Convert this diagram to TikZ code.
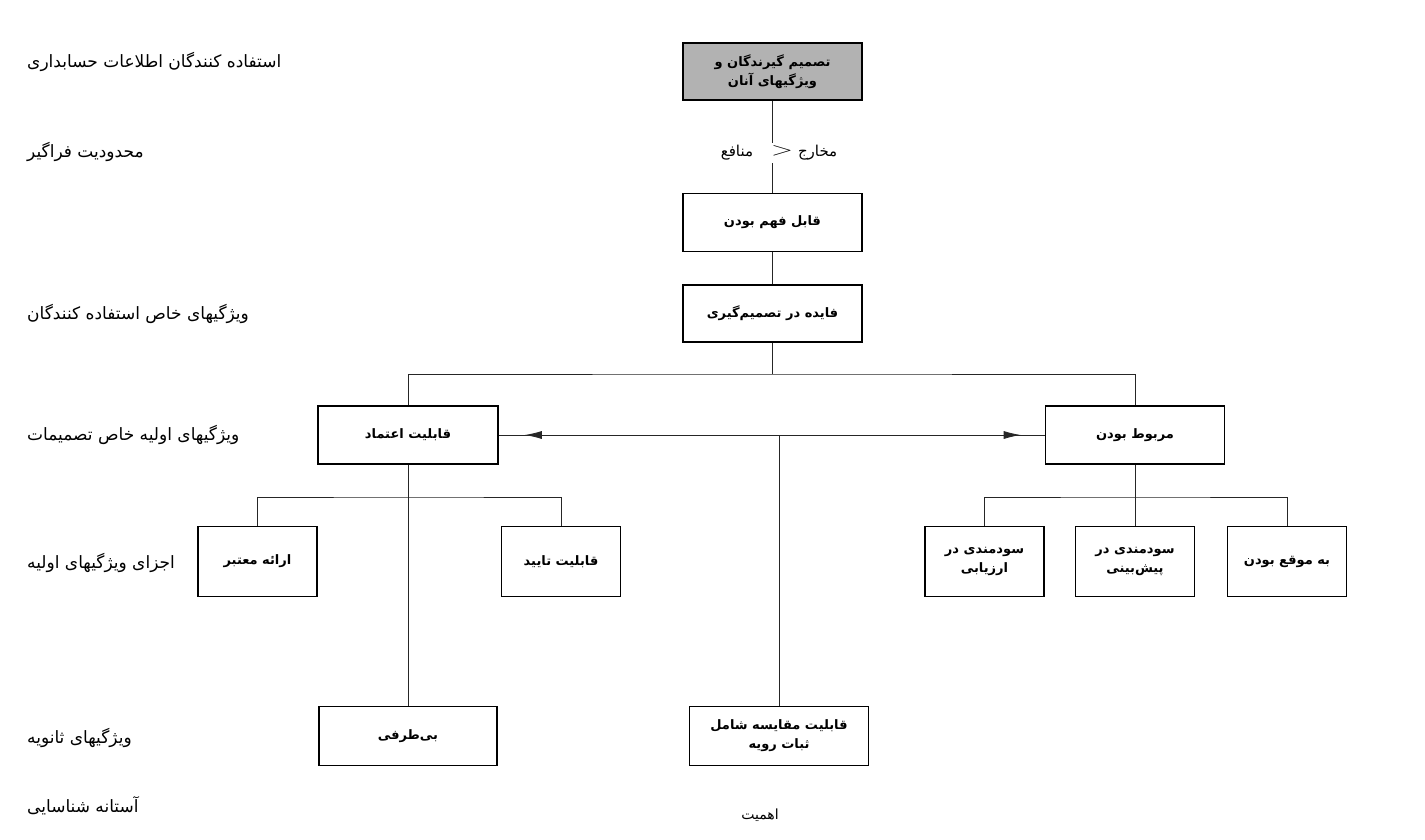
\documentclass[tikz,border=0pt]{standalone}
\usepackage{fontspec}
\TeXXeTstate=1
\newfontfamily\arabicfont[Script=Arabic]{DejaVu Sans}
\usetikzlibrary{arrows.meta,decorations.markings}
\newcommand\rtltext[1]{\beginR #1\endR}
\begin{document}
\begin{tikzpicture}[x=1pt,y=-1pt,
  box/.style={draw=black, line width=1.6pt, minimum width=179pt, minimum height=58pt,
    inner sep=0pt, align=center, font=\arabicfont\bfseries\fontsize{13}{19}\selectfont},
  sbox/.style={box, minimum width=119pt, minimum height=70pt},
  conn/.style={draw=black!85, line width=0.8pt},
  lab/.style={anchor=west, inner sep=0pt, font=\arabicfont\fontsize{17}{19}\selectfont}]
\useasboundingbox (0,0) rectangle (1425,839);
\fill[white] (0,0) rectangle (1425,839);

% main column
\node[box, fill=black!30, minimum height=57pt] (top) at (772.5,71.5)
  {\rtltext{تصمیم گیرندگان و}\\\rtltext{ویژگیهای آنان}};
\node[box] (und) at (772.5,222.5) {\rtltext{قابل فهم بودن}};
\node[box, minimum height=57pt] (use) at (772.5,313.5) {\rtltext{فایده در تصمیم‌گیری}};

\node[box, minimum width=180pt] (rel) at (408,435) {\rtltext{قابلیت اعتماد}};
\node[box] (relv) at (1135,435) {\rtltext{مربوط بودن}};

\node[sbox] (cred) at (257.5,561.5) {\rtltext{ارائه معتبر}};
\node[sbox] (ver) at (561,561.5) {\rtltext{قابلیت تایید}};
\node[sbox] (eval) at (984.5,561.5) {\rtltext{سودمندی در}\\\rtltext{ارزیابی}};
\node[sbox] (pred) at (1135,561.5) {\rtltext{سودمندی در}\\\rtltext{پیش‌بینی}};
\node[sbox] (time) at (1287,561.5) {\rtltext{به موقع بودن}};

\node[box, minimum width=178pt, minimum height=59pt] (neut) at (408,736) {\rtltext{بی‌طرفی}};
\node[box, minimum height=59pt] (comp) at (779,736)
  {\rtltext{قابلیت مقایسه شامل}\\\rtltext{ثبات رویه}};

% connectors
\draw[conn] (top) -- (und);
\node[fill=white, inner sep=2pt, font=\arabicfont\fontsize{15}{17}\selectfont] (cb) at (779,153)
  {\rtltext{منافع}\hspace{18pt}\raisebox{1pt}{\scalebox{2}[1.3]{$>$}}\hspace{5pt}\rtltext{مخارج}};
\draw[conn] (und) -- (use);
\coordinate (b1) at (772.5,374);
\draw[conn] (use.south) -- (b1);
\draw[conn] (rel.north) |- (b1) -| (relv.north);
\draw[conn, postaction={decorate}, decoration={markings,
   mark=at position 26pt with {\arrowreversed{Latex[length=17pt,width=8pt]}},
   mark=at position -24pt with {\arrow{Latex[length=17pt,width=8pt]}}}]
   (rel.east) -- (relv.west);
\coordinate (c1) at (comp.north |- rel.east);
\draw[conn] (c1) -- (comp.north);

\coordinate (b2) at (408,497);
\draw[conn] (cred.north) |- (b2) -| (ver.north);
\draw[conn] (rel.south) -- (neut.north);
\coordinate (b3) at (1135,497);
\draw[conn] (eval.north) |- (b3) -| (time.north);
\draw[conn] (relv.south) -- (pred.north);

% side labels
\node[lab] (l1) at (27,62) {\rtltext{استفاده کنندگان اطلاعات حسابداری}};
\node[lab] (l2) at (27,152) {\rtltext{محدودیت فراگیر}};
\node[lab] (l3) at (27,314) {\rtltext{ویژگیهای خاص استفاده کنندگان}};
\node[lab] (l4) at (27,435) {\rtltext{ویژگیهای اولیه خاص تصمیمات}};
\node[lab] (l5) at (27,563) {\rtltext{اجزای ویژگیهای اولیه}};
\node[lab] (l6) at (27,738) {\rtltext{ویژگیهای ثانویه}};
\node[lab] (l7) at (27,806) {\rtltext{آستانه شناسایی}};
\node[font=\arabicfont\fontsize{14}{16}\selectfont, inner sep=0pt] (imp) at (760,815) {\rtltext{اهمیت}};
\end{tikzpicture}
\end{document}
